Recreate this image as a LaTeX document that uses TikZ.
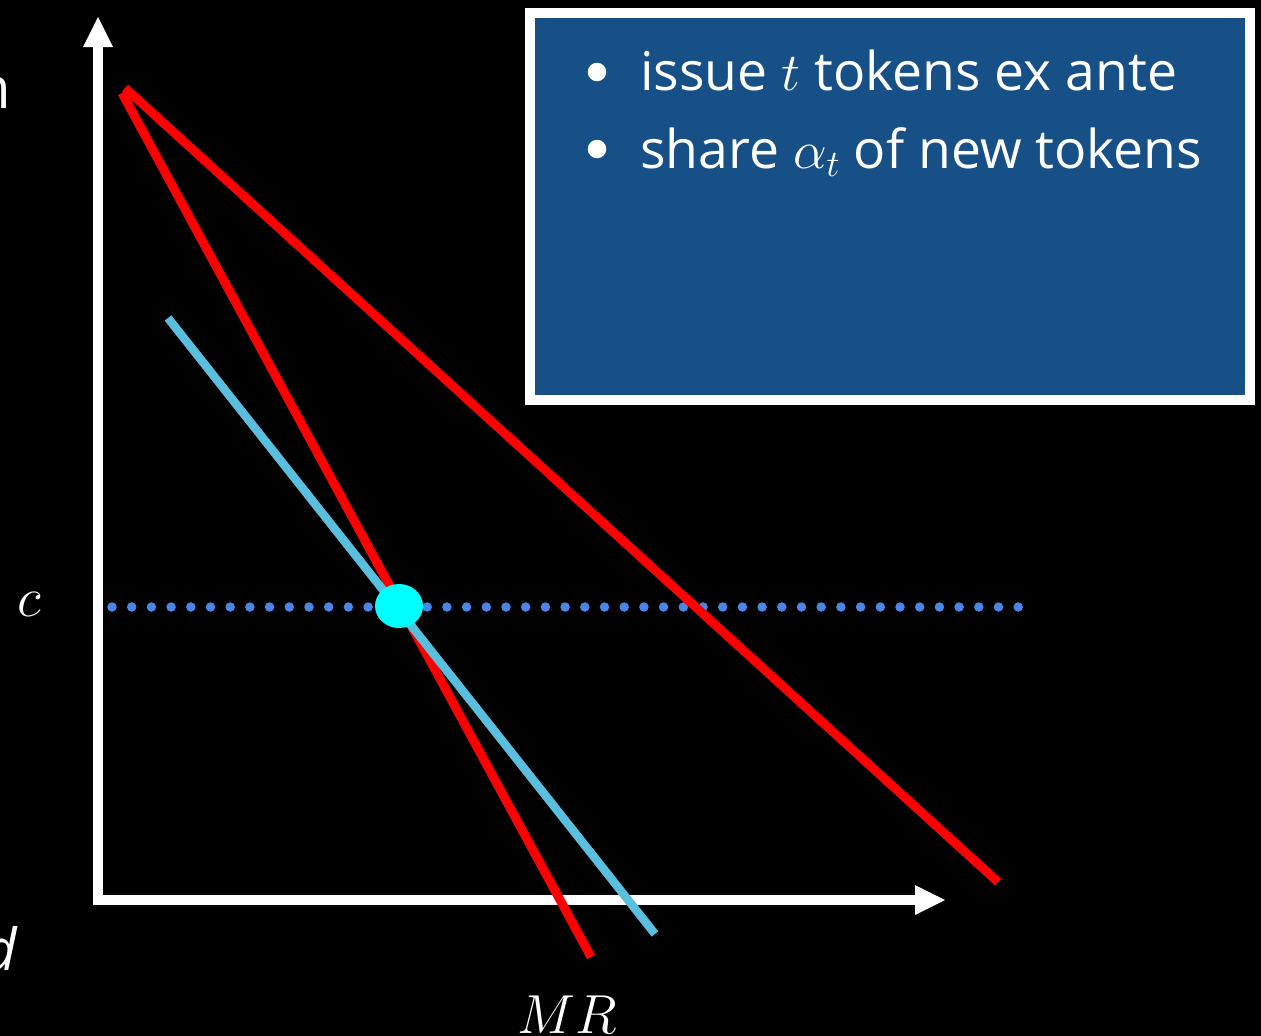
\RequirePackage{fix-cm}
\documentclass[tikz,border=0pt]{standalone}
\usepackage{fontspec}
\setmainfont{Open Sans}
\usetikzlibrary{arrows.meta,shapes.geometric}
\definecolor{boxblue}{RGB}{22,80,135}
\definecolor{skyline}{RGB}{90,190,222}
\definecolor{dotblue}{RGB}{74,134,232}
\definecolor{eqcyan}{RGB}{0,255,255}
\tikzset{
  axisline/.style={white,line width=10pt,line join=miter,
    {Triangle[width=30pt,length=30pt,line width=0pt]}-{Triangle[width=30pt,length=30pt,line width=0pt]}},
  redline/.style={red,line width=9pt},
  blueline/.style={skyline,line width=8.5pt},
  dotline/.style={dotblue,line width=9.5pt,line cap=round,dash pattern=on 0pt off 19.7pt},
  boxtext/.style={white,font=\fontsize{53.5}{60}\selectfont,anchor=base west,inner sep=0pt},
  bulletdot/.style={circle,fill=white,minimum size=18.5pt,inner sep=0pt},
  mathlabel/.style={white,inner sep=0pt},
}
\begin{document}
\begin{tikzpicture}[x=1pt,y=-1pt]
\fill[black] (0,0) rectangle (1261,1036);
\useasboundingbox (0,0) rectangle (1261,1036);
\clip (0,0) rectangle (1261,1036);
% info box
\node[draw=white,line width=10pt,fill=boxblue,minimum width=720pt,minimum height=387pt,inner sep=0pt,anchor=north west] (box) at (525,8) {};
\node[bulletdot] (bul1) at (597,72) {};
\node[bulletdot] (bul2) at (597,149) {};
\node[boxtext] (b1) at (640,90) {issue $t$ tokens ex ante};
\node[boxtext] (b2) at (640,168) {share $\alpha_t$ of new tokens};
% axes
\coordinate (ytip) at (98,17);
\coordinate (corner) at (98,900);
\coordinate (xtip) at (945,900);
\draw[axisline] (ytip) -- (corner) -- (xtip);
% dotted level c
\coordinate (d0) at (112,607);
\coordinate (d1) at (1022,607);
\draw[dotline] (d0) -- (d1);
% lines
\coordinate (r1a) at (125,88);
\coordinate (r1b) at (998,882);
\coordinate (r2a) at (122,93);
\coordinate (r2b) at (591,957);
\coordinate (s1a) at (168,318);
\coordinate (s1b) at (655,934);
\draw[redline] (r1a) -- (r1b);
\draw[redline] (r2a) -- (r2b);
\draw[blueline] (s1a) -- (s1b);
% equilibrium point
\node[fill=eqcyan,ellipse,minimum width=48pt,minimum height=44pt,inner sep=0pt,draw=none] (eq) at (399,606) {};
% labels
\node[mathlabel,font=\fontsize{56}{60}\selectfont,anchor=base] (c) at (29,616) {$c$};
\node[mathlabel,font=\fontsize{55}{60}\selectfont,anchor=base] (mr) at (567,1033) {$MR$};
\node[white,inner sep=0pt,anchor=base east,font=\fontsize{58}{60}\selectfont] (n) at (11,108) {n};
\node[white,inner sep=0pt,anchor=base east,font=\fontsize{58}{60}\selectfont\itshape] (dd) at (17,970) {d};
\end{tikzpicture}
\end{document}
